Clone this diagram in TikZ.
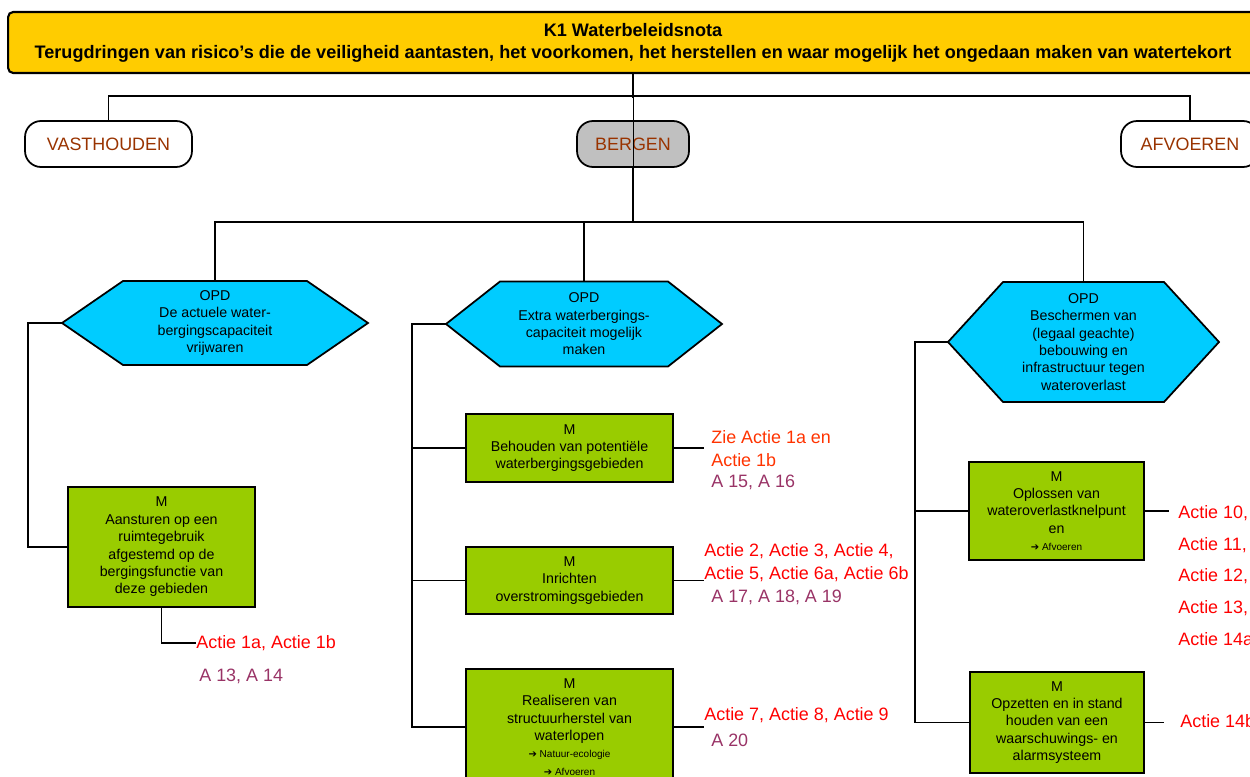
\documentclass[tikz,border=0pt]{standalone}
\usepackage{fontspec}
\setmainfont{Liberation Sans}
\newfontfamily\arrowfont{DejaVu Sans}
\usetikzlibrary{positioning}
\definecolor{goud}{HTML}{FFCC00}
\definecolor{cyaan}{HTML}{00CCFF}
\definecolor{groen}{HTML}{99CC00}
\definecolor{grijs}{HTML}{C0C0C0}
\definecolor{bruin}{HTML}{993300}
\definecolor{paars}{HTML}{993366}
\definecolor{oranje}{HTML}{FF3300}
\tikzstyle{titel} = [draw, line width=1.2pt, fill=goud, rounded corners=0.1cm, align=center, inner sep=0pt, font=\fontsize{10.3pt}{12.5pt}\selectfont\bfseries]
\tikzstyle{pijler} = [draw, line width=1pt, rounded corners=0.32cm, text=bruin, inner sep=0pt, minimum height=0.92cm, font=\fontsize{10.2pt}{12pt}\selectfont]
\tikzstyle{opd} = [draw, line width=1pt, fill=cyaan]
\tikzstyle{opdtekst} = [align=center, inner sep=0pt, font=\fontsize{8.1pt}{9.9pt}\selectfont]
\tikzstyle{maatregel} = [draw, line width=1pt, fill=groen, align=center, inner sep=0pt, font=\fontsize{8.1pt}{9.9pt}\selectfont]
\tikzstyle{actie} = [text=red, anchor=west, align=left, inner sep=0pt, font=\fontsize{10.2pt}{13pt}\selectfont]
\tikzstyle{verwijzing} = [text=paars, anchor=west, inner sep=0pt, font=\fontsize{10.2pt}{13pt}\selectfont]
\tikzstyle{lijn} = [line width=1pt]
\newcommand{\pijl}[1]{{\fontsize{5.7pt}{7.4pt}\selectfont{\arrowfont\symbol{"2794}} #1}}
% hexagon: name, cx, cy, half width, half height, inset, text
\newcommand{\drawOpd}[7]{
  \draw[opd] (#2-#4,#3) -- (#2-#4+#6,#3-#5) -- (#2+#4-#6,#3-#5) -- (#2+#4,#3)
    -- (#2+#4-#6,#3+#5) -- (#2-#4+#6,#3+#5) -- cycle;
  \node[opdtekst, minimum width=#4*0.04cm, minimum height=#5*0.04cm] (#1) at (#2,#3) {#7};
}

\begin{document}
\begin{tikzpicture}[x=0.02cm, y=-0.02cm]
  \useasboundingbox (0,0) rectangle (1250,777);
  \clip (0,0) rectangle (1250,777);

  \node[titel, minimum width=25cm, minimum height=1.22cm] (k1) at (633,42.5)
    {K1 Waterbeleidsnota\\Terugdringen van risico’s die de veiligheid aantasten, het voorkomen, het herstellen en waar mogelijk het ongedaan maken van watertekort};

  \node[pijler, minimum width=3.34cm] (vasthouden) at (108.5,144) {VASTHOUDEN};
  \node[pijler, fill=grijs, minimum width=2.24cm] (bergen) at (633,144) {BERGEN};
  \node[pijler, minimum width=2.76cm] (afvoeren) at (1190,144) {AFVOEREN};
  \draw[lijn] (vasthouden.north) -- ++(0,-24) -| (afvoeren.north);
  \draw[lijn] (k1.south) -- ++(0,24);
  \draw[thin] (k1.south) -- (bergen.south);
  \coordinate (hub) at (633,222);
  \draw[lijn] (bergen.south) -- (hub);

  \drawOpd{opd1}{215}{323}{153}{42}{61}{OPD\\De actuele water-\\bergingscapaciteit\\vrijwaren}
  \drawOpd{opd2}{584}{324}{138}{42.5}{54}{OPD\\Extra waterbergings-\\capaciteit mogelijk\\maken}
  \drawOpd{opd3}{1083.5}{342}{135.5}{60}{55}{OPD\\Beschermen van\\(legaal geachte)\\bebouwing en\\infrastructuur tegen\\wateroverlast}
  \draw[lijn] (opd1.north) |- (hub) -| (opd3.north);
  \draw[lijn] (opd2.north) -- (opd2.north |- hub);

  \node[maatregel, minimum width=3.74cm, minimum height=2.4cm] (m1) at (161.5,547)
    {M\\Aansturen op een\\ruimtegebruik\\afgestemd op de\\bergingsfunctie van\\deze gebieden};
  \node[maatregel, minimum width=4.14cm, minimum height=1.36cm] (m2) at (569.5,448)
    {M\\Behouden van potentiële\\waterbergingsgebieden};
  \node[maatregel, minimum width=4.14cm, minimum height=1.34cm] (m3) at (569.5,580.5)
    {M\\Inrichten\\overstromingsgebieden};
  \node[maatregel, minimum width=4.14cm, minimum height=2.32cm] (m4) at (569.5,727)
    {M\\Realiseren van\\structuurherstel van\\waterlopen\\\pijl{Natuur-ecologie}\\\pijl{Afvoeren}};
  \node[maatregel, minimum width=3.5cm, minimum height=1.96cm] (m5) at (1056.5,511)
    {M\\Oplossen van\\wateroverlastknelpunt\\en\\\pijl{Afvoeren}};
  \node[maatregel, minimum width=3.48cm, minimum height=2.02cm] (m6) at (1057,722.5)
    {M\\Opzetten en in stand\\houden van een\\waarschuwings- en\\alarmsysteem};

  \draw[lijn] (opd1.west) -- ++(-34,0) |- (m1.west);
  \draw[lijn] (opd2.west) -- ++(-34,0) coordinate (stam2) |- (m4.west);
  \draw[lijn] (stam2 |- m2.west) -- (m2.west);
  \draw[lijn] (stam2 |- m3.west) -- (m3.west);
  \draw[lijn] (opd3.west) -- ++(-33,0) coordinate (stam3) |- (m6.west);
  \draw[lijn] (stam3 |- m5.west) -- (m5.west);

  % acties
  \node[actie] (actie1) at (196,643) {Actie 1a, Actie 1b};
  \node[verwijzing] (a1) at (199,676) {A 13, A 14};
  \draw[lijn] (m1.south) |- (actie1.west);

  \node[actie, text=oranje] (actie2) at (711,449) {Zie Actie 1a en\\Actie 1b};
  \node[verwijzing] (a2) at (711,482) {A 15, A 16};
  \draw[lijn] (m2.east) -- ++(30,0);

  \node[actie] (actie3) at (704,562.5) {Actie 2, Actie 3, Actie 4,\\Actie 5, Actie 6a, Actie 6b};
  \node[verwijzing] (a3) at (711,597) {A 17, A 18, A 19};
  \draw[lijn] (m3.east) -- ++(30,0);

  \node[actie] (actie4) at (704,715) {Actie 7, Actie 8, Actie 9};
  \node[verwijzing] (a4) at (711,740) {A 20};
  \draw[lijn] (m4.east) -- ++(30,0);

  \node[actie, font=\fontsize{10.2pt}{18.1pt}\selectfont] (actie5) at (1178,575.5)
    {Actie 10,\\Actie 11,\\Actie 12,\\Actie 13,\\Actie 14a};
  \draw[lijn] (m5.east) -- ++(24,0);
  \node[actie] (actie6) at (1180,721) {Actie 14b};
  \draw[lijn] (m6.east) -- ++(19,0);
\end{tikzpicture}
\end{document}
